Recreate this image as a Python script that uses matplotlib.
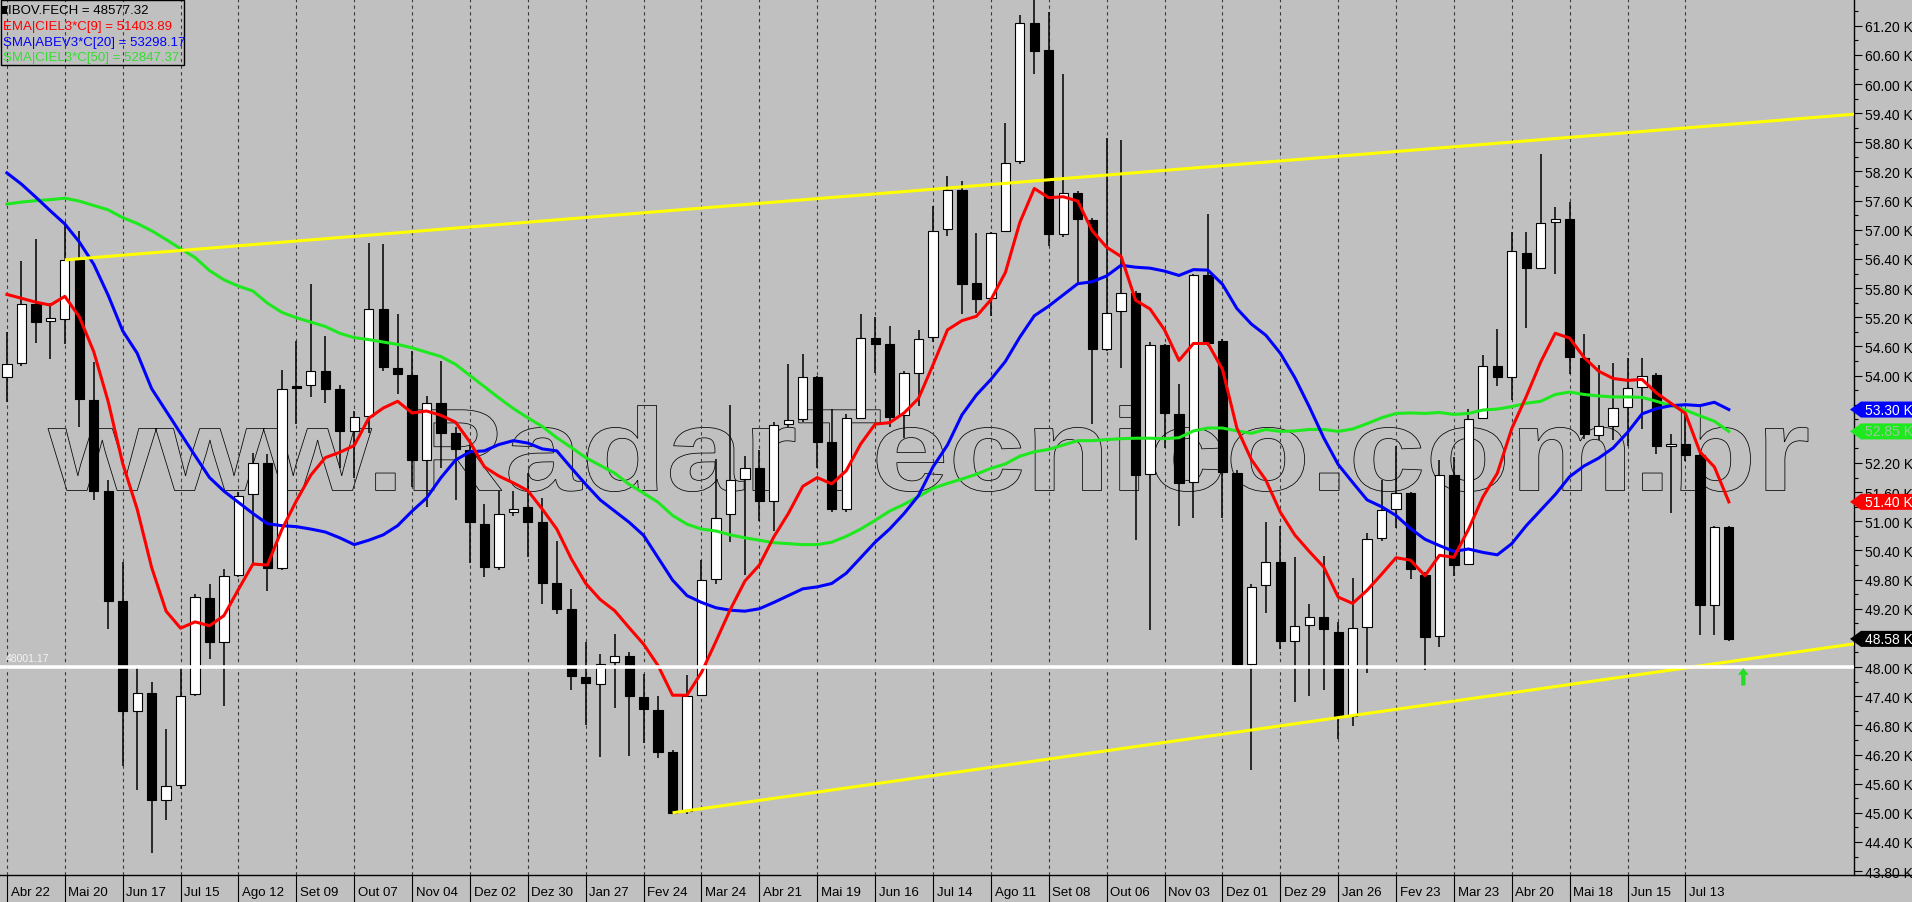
import matplotlib
matplotlib.use("Agg")
import matplotlib.pyplot as plt
import numpy as np
from matplotlib import font_manager
from matplotlib.font_manager import FontProperties
from matplotlib.patches import PathPatch, Polygon, Rectangle
from matplotlib.textpath import TextPath
from matplotlib.transforms import Affine2D, IdentityTransform, blended_transform_factory
from matplotlib.ticker import MultipleLocator, FuncFormatter
from matplotlib.lines import Line2D

# weekly IBOV candles (values in thousands of points)
opens = [53.96, 54.25, 55.47, 55.13, 55.17, 56.38, 53.50, 51.62, 49.35, 47.09,
         47.47, 45.26, 45.58, 47.45, 49.42, 48.51, 49.90, 51.57, 52.21, 50.04,
         53.79, 53.80, 54.09, 53.73, 52.86, 53.16, 55.36, 54.15, 54.02, 52.26,
         53.43, 52.81, 52.46, 50.95, 50.06, 51.19, 51.29, 50.98, 49.72, 49.20,
         47.80, 47.66, 48.10, 48.22, 47.39, 47.12, 46.26, 45.03, 47.43, 49.81,
         51.14, 51.88, 52.10, 51.42, 53.01, 53.10, 53.96, 52.63, 51.26, 53.13,
         54.78, 54.64, 53.18, 54.05, 54.79, 57.01, 57.81, 55.91, 55.60, 56.97,
         58.41, 61.25, 60.70, 56.92, 57.76, 57.20, 54.54, 55.32, 55.70, 51.97,
         54.63, 53.20, 51.80, 56.06, 54.72, 52.00, 48.07, 49.68, 50.16, 48.53,
         48.86, 49.03, 48.72, 47.00, 48.83, 50.66, 51.26, 51.58, 49.90, 48.64,
         51.96, 50.13, 53.12, 54.20, 53.97, 56.53, 56.22, 57.16, 57.23, 54.37,
         52.77, 52.97, 53.36, 53.77, 54.02, 52.54, 52.60, 52.36, 49.28, 50.88]
highs = [54.90, 56.36, 56.80, 55.50, 57.16, 56.98, 54.28, 51.85, 50.16, 48.00,
         47.70, 46.72, 48.00, 49.50, 49.70, 50.02, 51.60, 52.40, 52.39, 54.12,
         54.72, 55.88, 54.81, 53.80, 53.27, 56.73, 56.70, 55.26, 54.50, 53.57,
         54.29, 52.95, 52.60, 51.35, 51.62, 51.62, 52.00, 51.48, 50.60, 49.61,
         48.51, 48.26, 48.69, 48.32, 47.85, 47.41, 46.30, 47.84, 50.20, 52.28,
         53.39, 52.34, 52.46, 53.04, 54.23, 54.44, 54.00, 53.31, 53.20, 55.27,
         55.21, 55.01, 54.10, 54.94, 57.48, 58.11, 58.01, 56.94, 56.95, 59.19,
         61.43, 61.75, 61.49, 60.21, 57.80, 57.25, 58.88, 58.84, 55.75, 54.70,
         54.65, 53.82, 56.10, 57.33, 54.75, 52.05, 49.70, 50.98, 50.91, 50.27,
         49.29, 50.29, 48.92, 49.84, 50.75, 51.85, 52.54, 51.60, 49.95, 52.26,
         52.33, 53.31, 54.43, 54.96, 56.95, 56.95, 58.56, 57.47, 57.57, 54.85,
         54.22, 54.25, 54.37, 54.37, 54.05, 52.79, 53.29, 52.40, 50.90, 50.90]
lows = [53.45, 54.20, 54.66, 54.34, 54.64, 52.95, 51.44, 48.78, 45.96, 45.46,
        44.17, 44.86, 45.50, 47.40, 48.16, 47.20, 49.85, 50.07, 49.56, 50.00,
        53.00, 53.56, 53.43, 52.10, 51.90, 52.81, 54.10, 53.62, 51.71, 51.30,
        52.10, 51.44, 50.14, 49.86, 50.00, 51.10, 50.27, 49.29, 49.10, 47.52,
        46.81, 46.15, 47.15, 46.17, 46.43, 46.13, 44.98, 44.98, 47.40, 49.70,
        50.57, 49.90, 51.00, 50.80, 52.95, 53.05, 52.10, 51.20, 51.20, 53.10,
        54.05, 52.95, 52.72, 53.38, 54.70, 56.87, 55.27, 55.29, 55.22, 56.95,
        58.35, 60.21, 56.67, 56.85, 55.89, 53.00, 54.50, 54.15, 50.62, 48.76,
        52.50, 50.91, 51.07, 54.60, 51.07, 48.00, 45.88, 49.12, 48.37, 47.29,
        47.41, 47.52, 46.51, 46.79, 47.87, 50.60, 50.87, 49.81, 47.93, 48.42,
        49.88, 50.10, 53.10, 53.78, 53.49, 54.97, 56.20, 56.10, 54.04, 52.70,
        52.67, 52.67, 52.56, 52.90, 52.38, 51.17, 52.24, 48.66, 48.66, 48.53]
closes = [54.23, 55.47, 55.10, 55.18, 56.38, 53.52, 51.62, 49.35, 47.09, 47.47,
          45.26, 45.56, 47.41, 49.44, 48.51, 49.88, 51.53, 52.21, 50.04, 53.73,
          53.75, 54.09, 53.73, 52.86, 53.14, 55.36, 54.17, 54.03, 52.26, 53.43,
          52.81, 52.49, 50.98, 50.06, 51.16, 51.25, 50.98, 49.72, 49.20, 47.81,
          47.67, 48.07, 48.22, 47.41, 47.13, 46.26, 45.00, 47.41, 49.79, 51.07,
          51.85, 52.10, 51.42, 52.98, 53.09, 53.96, 52.63, 51.26, 53.13, 54.78,
          54.64, 53.15, 54.05, 54.75, 56.98, 57.81, 55.89, 55.57, 56.94, 58.38,
          61.25, 60.67, 56.92, 57.76, 57.22, 54.54, 55.29, 55.70, 51.95, 54.63,
          53.23, 51.79, 56.06, 54.66, 52.02, 48.07, 49.65, 50.16, 48.53, 48.85,
          49.03, 48.78, 46.97, 48.80, 50.64, 51.24, 51.59, 50.02, 48.62, 51.96,
          50.11, 53.11, 54.19, 53.97, 56.57, 56.22, 57.13, 57.23, 54.39, 52.79,
          52.96, 53.33, 53.74, 54.00, 52.54, 52.60, 52.37, 49.28, 50.88, 48.58]

ema9 = [55.67, 55.59, 55.51, 55.45, 55.63, 55.21, 54.49, 53.46, 52.19, 51.25,
        50.05, 49.15, 48.80, 48.93, 48.85, 49.06, 49.60, 50.12, 50.10, 50.83,
        51.42, 51.95, 52.31, 52.42, 52.56, 53.12, 53.33, 53.47, 53.23, 53.27,
        53.18, 53.04, 52.63, 52.12, 51.93, 51.79, 51.63, 51.25, 50.84, 50.23,
        49.72, 49.39, 49.16, 48.81, 48.47, 48.03, 47.42, 47.42, 47.89, 48.53,
        49.19, 49.77, 50.10, 50.68, 51.16, 51.72, 51.90, 51.77, 52.04, 52.59,
        53.00, 53.03, 53.23, 53.53, 54.22, 54.94, 55.13, 55.22, 55.56, 56.12,
        57.15, 57.85, 57.66, 57.68, 57.59, 56.98, 56.64, 56.45, 55.55, 55.37,
        54.94, 54.31, 54.66, 54.66, 54.13, 52.92, 52.27, 51.85, 51.19, 50.72,
        50.38, 50.06, 49.44, 49.31, 49.58, 49.91, 50.25, 50.20, 49.88, 50.30,
        50.26, 50.83, 51.50, 51.99, 52.91, 53.57, 54.28, 54.87, 54.77, 54.37,
        54.09, 53.94, 53.90, 53.92, 53.64, 53.43, 53.22, 52.43, 52.12, 51.40]
sma20 = [58.17, 57.94, 57.67, 57.39, 57.12, 56.75, 56.29, 55.65, 54.92, 54.46,
         53.73, 53.27, 52.81, 52.35, 51.90, 51.62, 51.39, 51.16, 50.95, 50.91,
         50.89, 50.84, 50.78, 50.66, 50.52, 50.61, 50.72, 50.91, 51.21, 51.48,
         51.90, 52.26, 52.43, 52.45, 52.58, 52.66, 52.61, 52.49, 52.45, 52.10,
         51.76, 51.44, 51.21, 50.98, 50.71, 50.25, 49.79, 49.47, 49.33, 49.22,
         49.17, 49.15, 49.20, 49.33, 49.47, 49.61, 49.65, 49.72, 49.93, 50.25,
         50.57, 50.84, 51.16, 51.53, 52.12, 52.57, 53.19, 53.60, 53.92, 54.29,
         54.79, 55.23, 55.43, 55.66, 55.89, 55.93, 56.05, 56.27, 56.23, 56.21,
         56.15, 56.06, 56.18, 56.17, 55.88, 55.38, 55.06, 54.83, 54.46, 53.96,
         53.36, 52.72, 52.17, 51.80, 51.44, 51.30, 51.12, 50.85, 50.63, 50.50,
         50.38, 50.43, 50.36, 50.31, 50.54, 50.91, 51.23, 51.55, 51.92, 52.14,
         52.30, 52.51, 52.83, 53.21, 53.32, 53.38, 53.40, 53.38, 53.45, 53.30]
sma50 = [57.53, 57.57, 57.60, 57.62, 57.65, 57.59, 57.50, 57.41, 57.25, 57.13,
         56.98, 56.80, 56.61, 56.43, 56.16, 55.97, 55.84, 55.74, 55.49, 55.30,
         55.19, 55.10, 55.01, 54.87, 54.78, 54.74, 54.69, 54.64, 54.57, 54.48,
         54.39, 54.23, 54.00, 53.77, 53.54, 53.32, 53.13, 52.95, 52.72, 52.52,
         52.31, 52.15, 51.99, 51.76, 51.58, 51.39, 51.12, 50.94, 50.84, 50.80,
         50.72, 50.66, 50.61, 50.56, 50.54, 50.52, 50.52, 50.57, 50.69, 50.84,
         51.02, 51.21, 51.35, 51.51, 51.68, 51.78, 51.87, 51.97, 52.09, 52.18,
         52.34, 52.43, 52.48, 52.57, 52.66, 52.66, 52.68, 52.70, 52.71, 52.71,
         52.70, 52.72, 52.86, 52.92, 52.92, 52.86, 52.81, 52.89, 52.85, 52.86,
         52.89, 52.89, 52.85, 52.90, 53.01, 53.13, 53.22, 53.23, 53.22, 53.24,
         53.20, 53.22, 53.29, 53.31, 53.36, 53.43, 53.47, 53.61, 53.66, 53.61,
         53.58, 53.56, 53.56, 53.55, 53.47, 53.38, 53.29, 53.17, 53.06, 52.85]

date_labels = ["Abr 22", "Mai 20", "Jun 17", "Jul 15", "Ago 12", "Set 09", "Out 07",
               "Nov 04", "Dez 02", "Dez 30", "Jan 27", "Fev 24", "Mar 24", "Abr 21",
               "Mai 19", "Jun 16", "Jul 14", "Ago 11", "Set 08", "Out 06", "Nov 03",
               "Dez 01", "Dez 29", "Jan 26", "Fev 23", "Mar 23", "Abr 20", "Mai 18",
               "Jun 15", "Jul 13"]
label_step = 4

# drawn lines: trendlines (two points each) and horizontal support
upper_x, upper_y = [4, 127.7], [56.38, 59.38]
lower_x, lower_y = [46, 127.7], [45.00, 48.48]
support = 48.00117
arrow_x, arrow_y = 120, [47.62, 47.98]

legend_lines = [("IBOV.FECH = 48577.32", "black"),
                ("EMA|CIEL3*C[9] = 51403.89", "#ff0000"),
                ("SMA|ABEV3*C[20] = 53298.17", "#0000ff"),
                ("SMA|CIEL3*C[50] = 52847.37", "#33dd33")]
tags = [(53.30, "#0000ff", "white"), (52.85, "#1ee81e", "#9cc89c"),
        (51.40, "#ff0000", "white"), (48.58, "black", "white")]

W, H = 1912, 903
BG = "#c0c0c0"
names = {f.name for f in font_manager.fontManager.ttflist}
if "Liberation Sans Narrow" in names:
    xfont, xsize = "Liberation Sans Narrow", 11
else:
    xfont, xsize = "Liberation Sans", 9.5
plt.rcParams["font.family"] = ["Liberation Sans", "DejaVu Sans"]

fig = plt.figure(figsize=(W / 100, H / 100), dpi=100, facecolor=BG)
ax = fig.add_axes([0, 27 / H, 1854.3 / W, 876 / H])
ax.set_facecolor(BG)
ax.set_xlim(-0.48, 127.67)
ax.set_ylim(43.72, 61.75)

x = np.arange(len(closes))
o = np.array(opens)
c = np.array(closes)
up = c >= o

# watermark (outlined text)
tp = TextPath((0, 0), "www.RadarTecnico.com.br", size=100,
              prop=FontProperties(family="Liberation Sans", weight="bold"))
ext = tp.get_extents()
trf = Affine2D().translate(-ext.x0, 0).scale(1760 / ext.width, 85 / ext.y1).translate(48, H - 491.5)
wm = PathPatch(tp, facecolor="none", edgecolor="black", lw=0.55, transform=trf, zorder=0.5)
ax.add_artist(wm)

# dashed vertical grid
for k in range(len(date_labels)):
    ax.axvline(k * label_step, color="#3a3a3a", lw=0.8, ls=(0, (3, 3)), zorder=1)

# candles
ax.vlines(x, lows, highs, color="black", lw=1.1, zorder=2)
ax.bar(x, np.maximum(np.abs(c - o), 0.04), bottom=np.minimum(o, c), width=0.64,
       color=np.where(up, "white", "black"), edgecolor="black", lw=0.8, zorder=3)

# moving averages
ax.plot(x, sma50, color="#1ee81e", lw=2.2, zorder=4)
ax.plot(x, sma20, color="#0000ff", lw=2.2, zorder=4)
ax.plot(x, ema9, color="#ff0000", lw=2.2, zorder=4)

# trendlines and support
ax.plot(upper_x, upper_y, color="#ffff00", lw=2.2, zorder=5, solid_capstyle="butt")
ax.plot(lower_x, lower_y, color="#ffff00", lw=2.2, zorder=5, solid_capstyle="butt")
ax.axhline(support, color="white", lw=2.6, zorder=5)
ax.text(-0.1, support + 0.18, "48001.17", color="#f4f4f4", fontsize=7.5, va="center", ha="left", zorder=6)
ax.annotate("", xy=(arrow_x, arrow_y[1]), xytext=(arrow_x, arrow_y[0]),
            arrowprops=dict(arrowstyle="simple,head_length=0.35,head_width=0.55,tail_width=0.22",
                            color="#22dd22", lw=0, mutation_scale=14,
                            shrinkA=0, shrinkB=0), zorder=6)

# axes styling
for s in ["left", "top", "bottom"]:
    ax.spines[s].set_visible(False)
ax.spines["right"].set_color("black")
ax.spines["right"].set_linewidth(1)
ax.yaxis.tick_right()
ax.yaxis.set_major_locator(MultipleLocator(0.6))
ax.yaxis.set_minor_locator(MultipleLocator(0.3))


def ylab(v, p):
    # labels fully covered by a price tag are not shown
    if any(abs(v - t[0]) < 0.1 for t in tags):
        return ""
    return f"{v:.2f} K"


ax.yaxis.set_major_formatter(FuncFormatter(ylab))
ax.tick_params(axis="y", which="major", direction="out", length=5.8, width=0.8,
               pad=2.2, labelsize=10, colors="black")
ax.tick_params(axis="y", which="minor", direction="out", length=3, width=0.8, colors="black")
ax.set_xticks([k * label_step for k in range(len(date_labels))])
ax.set_xticklabels([])
ax.tick_params(axis="x", direction="out", length=19.5, width=0.8, colors="black")
xt = blended_transform_factory(ax.transData, ax.transAxes)
for k, lab in enumerate(date_labels):
    ax.text(k * label_step + 0.25, -0.0194, lab, transform=xt, ha="left", va="center",
            fontsize=xsize, family=[xfont, "DejaVu Sans"], color="black", clip_on=False)

fig.add_artist(Line2D([0, 1], [27 / H, 27 / H], color="black", lw=1, transform=fig.transFigure))

# price tags on right axis
for val, fc, tc in tags:
    yc = ax.transData.transform((0, val))[1]
    pts = [(1850, yc), (1861, yc + 8), (W, yc + 8), (W, yc - 8), (1861, yc - 8)]
    fig.add_artist(Polygon(pts, closed=True, transform=IdentityTransform(),
                           facecolor=fc, edgecolor="none", zorder=5))
    fig.text(1865 / W, yc / H, f"{val:.2f} K", color=tc, fontsize=10, va="center",
             ha="left", zorder=6)

# legend box
fig.add_artist(Rectangle((0.5 / W, 1 - 65.5 / H), 183.5 / W, 65 / H, fill=False,
                         edgecolor="black", lw=1, transform=fig.transFigure, zorder=5))
fig.add_artist(Rectangle((2 / W, 1 - 15 / H), 5 / W, 8 / H, facecolor="black",
                         edgecolor="none", transform=fig.transFigure, zorder=5))
for k, (txt, col) in enumerate(legend_lines):
    xx = 8.5 if k == 0 else 2.7
    fig.text(xx / W, 1 - (11.5 + 15.6 * k) / H, txt, color=col, fontsize=9.5,
             va="center", ha="left", zorder=6)

fig.savefig("out.png", dpi=100, facecolor=BG)
